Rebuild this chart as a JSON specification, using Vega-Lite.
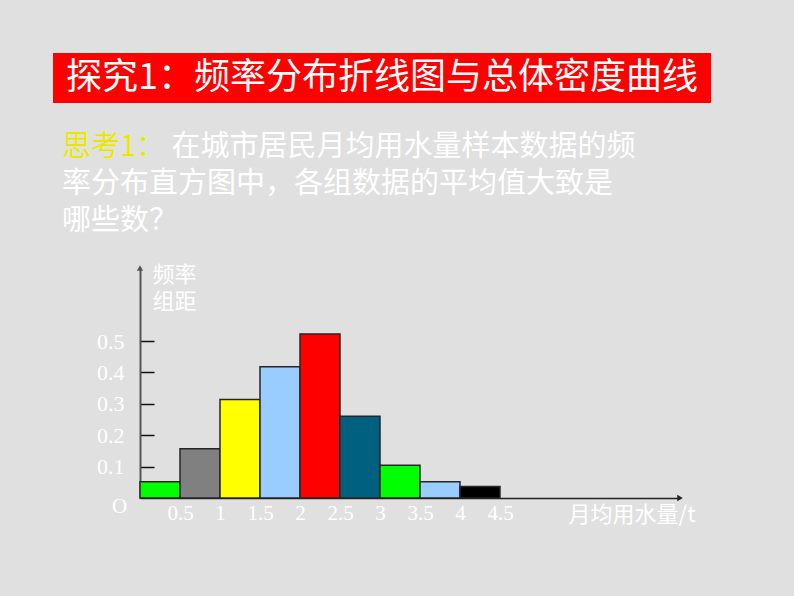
{
  "$schema": "https://vega.github.io/schema/vega-lite/v6.json",
  "background": "#e0e0e0",
  "padding": {"left": 53, "top": 53, "right": 83, "bottom": 73},
  "config": {"view": {"stroke": null}, "font": "Noto Sans CJK SC"},
  "bounds": "flush",
  "spacing": 165,
  "vconcat": [
    {
      "width": 658,
      "height": 50,
      "view": {"fill": "#ff0000", "stroke": null},
      "data": {"values": [{"t": "探究1：频率分布折线图与总体密度曲线"}]},
      "mark": {"type": "text", "color": "#ffffff", "fontSize": 36, "font": "Noto Sans CJK SC"},
      "encoding": {"text": {"field": "t", "type": "nominal"}}
    },
    {
      "width": 627,
      "height": 230,
      "title": {
        "text": ["思考1： 在城市居民月均用水量样本数据的频", "率分布直方图中，各组数据的平均值大致是", "哪些数？"],
        "subtitle": "思考1：",
        "anchor": "start",
        "frame": "group",
        "dx": 9,
        "offset": 27,
        "color": "#ffffff",
        "font": "Noto Sans CJK SC",
        "fontSize": 29,
        "fontWeight": "normal",
        "lineHeight": 37,
        "subtitleColor": "#e6e600",
        "subtitleFont": "Noto Sans CJK SC",
        "subtitleFontSize": 29,
        "subtitleLineHeight": 37,
        "subtitlePadding": -103
      },
      "data": {
        "values": [
          {"g": "[0,0.5)", "lo": 0, "hi": 0.5, "v": 0.052},
          {"g": "[0.5,1)", "lo": 0.5, "hi": 1, "v": 0.157},
          {"g": "[1,1.5)", "lo": 1, "hi": 1.5, "v": 0.314},
          {"g": "[1.5,2)", "lo": 1.5, "hi": 2, "v": 0.418},
          {"g": "[2,2.5)", "lo": 2, "hi": 2.5, "v": 0.522},
          {"g": "[2.5,3)", "lo": 2.5, "hi": 3, "v": 0.26},
          {"g": "[3,3.5)", "lo": 3, "hi": 3.5, "v": 0.104},
          {"g": "[3.5,4)", "lo": 3.5, "hi": 4, "v": 0.052},
          {"g": "[4,4.5)", "lo": 4, "hi": 4.5, "v": 0.037}
        ]
      },
      "layer": [
        {
          "mark": {"type": "rect", "stroke": "#262626", "strokeWidth": 1.5, "opacity": 1},
          "encoding": {
            "x": {
              "field": "lo",
              "type": "quantitative",
              "scale": {"domain": [0, 6.75], "range": [87, 627], "nice": false, "zero": false},
              "axis": {
                "values": [0, 0.5, 1, 1.5, 2, 2.5, 3, 3.5, 4, 4.5],
                "format": "~g",
                "labelExpr": "datum.value === 0 ? 'O' : datum.label",
                "ticks": false,
                "grid": false,
                "domainColor": "#222222",
                "domainWidth": 1.5,
                "labelColor": "#ffffff",
                "labelFont": "Liberation Serif",
                "labelFontSize": 21,
                "labelPadding": {"condition": {"test": "datum.value === 0", "value": -3}, "value": 4},
                "labelFlush": false,
                "labelOverlap": false,
                "labelOffset": {"condition": {"test": "datum.value === 0", "value": -21}, "value": 0},
                "title": "月均用水量/t",
                "titleColor": "#ffffff",
                "titleFont": "Noto Sans CJK SC",
                "titleFontSize": 22,
                "titleFontWeight": "normal",
                "titleX": 642,
                "titleY": 16,
                "titleAlign": "right",
                "titleBaseline": "middle"
              }
            },
            "x2": {"field": "hi"},
            "y": {
              "field": "v",
              "type": "quantitative",
              "scale": {"domain": [0, 0.7325], "nice": false},
              "axis": {
                "values": [0.1, 0.2, 0.3, 0.4, 0.5],
                "format": ".1f",
                "offset": -87,
                "grid": false,
                "ticks": true,
                "tickSize": -14,
                "tickColor": "#111111",
                "tickWidth": 1.5,
                "domainColor": "#555555",
                "domainWidth": 2,
                "labelColor": "#ffffff",
                "labelFont": "Liberation Serif",
                "labelFontSize": 22,
                "labelPadding": 30,
                "title": ["频率", "组距"],
                "titleAngle": 0,
                "titleColor": "#ffffff",
                "titleFont": "Noto Sans CJK SC",
                "titleFontSize": 22,
                "titleFontWeight": "normal",
                "titleAlign": "left",
                "titleBaseline": "top",
                "titleX": 12,
                "titleY": -4,
                "titleLineHeight": 27
              }
            },
            "y2": {"datum": 0},
            "color": {
              "field": "g",
              "type": "nominal",
              "scale": {
                "domain": ["[0,0.5)", "[0.5,1)", "[1,1.5)", "[1.5,2)", "[2,2.5)", "[2.5,3)", "[3,3.5)", "[3.5,4)", "[4,4.5)"],
                "range": ["#00ff00", "#808080", "#ffff00", "#99ccff", "#ff0000", "#006080", "#00ff00", "#99ccff", "#000000"]
              },
              "legend": null
            }
          }
        },
        {
          "data": {"values": [{}]},
          "mark": {"type": "point", "shape": "triangle-up", "filled": true, "size": 40, "color": "#555555", "opacity": 1},
          "encoding": {
            "x": {"datum": 0, "type": "quantitative"},
            "y": {"datum": 0.7325, "type": "quantitative"}
          }
        },
        {
          "data": {"values": [{}]},
          "mark": {"type": "point", "shape": "triangle-right", "filled": true, "size": 40, "color": "#222222", "opacity": 1},
          "encoding": {
            "x": {"datum": 6.75, "type": "quantitative"},
            "y": {"datum": 0, "type": "quantitative"}
          }
        }
      ]
    }
  ]
}
